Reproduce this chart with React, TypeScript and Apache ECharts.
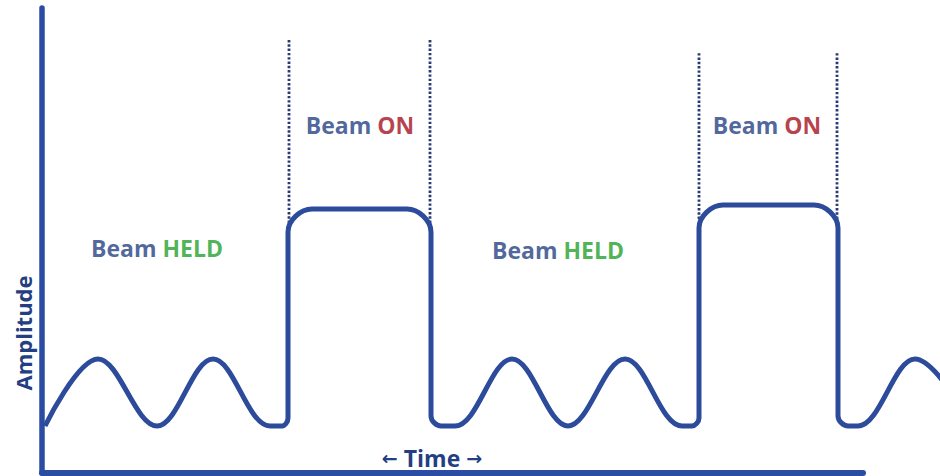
import React, { useEffect, useRef } from "react";
import * as echarts from "echarts";

// Time axis units ~ pixels from the vertical axis; amplitude units ~ pixels above the time axis
const waveTime = [3, 56, 115, 171, 228, 240, 246, 246, 270, 365, 389, 389, 399, 413, 470, 526, 583, 640, 650, 657, 657, 681, 772, 796, 796, 806, 816, 873, 930];
const waveAmp = [47, 114, 47, 114, 47, 47, 55, 241, 264, 264, 241, 57, 47, 47, 114, 47, 114, 47, 47, 55, 245, 268, 268, 245, 57, 47, 47, 114, 47];

const dividerTime = [247, 388, 657, 795];
const dividerTop = [433, 433, 421, 421];
const dividerBottom = [250, 250, 254, 254];

const onLabelTime = [318, 725];
const onLabelAmp = [348, 348];
const heldLabelTime = [115, 516];
const heldLabelAmp = [225, 223];

const timeAxisMax = 821; // drawn time axis length
const timeViewMax = 898; // plotting window up to the right edge (curve runs off it)
const ampMax = 465;

const FONT = "'Open Sans', 'Noto Sans', sans-serif";
const WAVE = "#2c4b9b";
const AXIS = "#2b4ca3";
const TEXT_BLUE = "#233f82";
const GREEN = "#1f9f2b";
const RED = "#a50f1d";
const DOT = "#2a3a74";

export default function App() {
  const ref = useRef<HTMLDivElement>(null);
  useEffect(() => {
    if (!ref.current) return;
    const chart = echarts.init(ref.current, undefined, { renderer: "svg" });
    const wave = waveTime.map((t, i) => [t, waveAmp[i]]);
    const dividers = dividerTime.map((t, i) => ({
      type: "line",
      xAxisIndex: 1,
      yAxisIndex: 1,
      data: [[t, dividerBottom[i]], [t, dividerTop[i]]],
      symbol: "none",
      lineStyle: { color: DOT, width: 2.8, type: [2.4, 1.9] },
      silent: true,
      z: 2,
    }));
    const W = "bold";
    const labelCommon = {
      show: true,
      position: "inside",
      fontFamily: FONT,
      fontWeight: W,
      fontSize: 23,
    };
    const hiddenAxis = {
      axisLine: { show: false },
      axisTick: { show: false },
      axisLabel: { show: false },
      splitLine: { show: false },
    };
    chart.setOption({
      animation: false,
      backgroundColor: "#ffffff",
      grid: [
        { left: 42, right: 940 - 42 - timeAxisMax, top: 8, bottom: 3 },
        { left: 42, right: 940 - 42 - timeViewMax, top: 8, bottom: 3 },
      ],
      xAxis: [
        {
          type: "value",
          gridIndex: 0,
          min: 0,
          max: timeAxisMax,
          axisLine: { show: true, lineStyle: { color: AXIS, width: 6 } },
          axisTick: { show: false },
          axisLabel: { show: false },
          splitLine: { show: false },
        },
        { type: "value", gridIndex: 1, min: 0, max: timeViewMax, ...hiddenAxis },
      ],
      yAxis: [
        {
          type: "value",
          gridIndex: 0,
          min: 0,
          max: ampMax,
          axisLine: { show: true, lineStyle: { color: AXIS, width: 5.5 } },
          axisTick: { show: false },
          axisLabel: { show: false },
          splitLine: { show: false },
        },
        { type: "value", gridIndex: 1, min: 0, max: ampMax, ...hiddenAxis },
      ],
      graphic: [
        {
          type: "text",
          x: 23,
          y: 333,
          rotation: Math.PI / 2,
          style: {
            text: "Amplitude",
            fill: TEXT_BLUE,
            font: `${W} 22px ${FONT}`,
            align: "center",
            verticalAlign: "middle",
          },
        },
        {
          type: "text",
          x: 432,
          y: 458,
          style: {
            text: "{a|←} Time {a|→}",
            fill: TEXT_BLUE,
            font: `${W} 23px ${FONT}`,
            align: "center",
            verticalAlign: "middle",
            rich: {
              a: { fontSize: 19, fontWeight: "bold", fill: TEXT_BLUE, fontFamily: "'DejaVu Sans', sans-serif" },
            },
          },
        },
      ],
      series: [
        {
          type: "line",
          xAxisIndex: 1,
          yAxisIndex: 1,
          data: wave,
          smooth: 0.37,
          symbol: "none",
          lineStyle: { color: WAVE, width: 5 },
          z: 3,
        },
        ...dividers,
        {
          type: "scatter",
          xAxisIndex: 1,
          yAxisIndex: 1,
          data: onLabelTime.map((t, i) => [t, onLabelAmp[i]]),
          symbolSize: 1,
          itemStyle: { color: "rgba(0,0,0,0)" },
          label: {
            ...labelCommon,
            formatter: "{b|Beam} {s|ON}",
            rich: {
              b: { color: TEXT_BLUE, fontFamily: FONT, fontWeight: W, fontSize: 23 },
              s: { color: RED, fontFamily: FONT, fontWeight: W, fontSize: 23 },
            },
          },
          silent: true,
        },
        {
          type: "scatter",
          xAxisIndex: 1,
          yAxisIndex: 1,
          data: heldLabelTime.map((t, i) => [t, heldLabelAmp[i]]),
          symbolSize: 1,
          itemStyle: { color: "rgba(0,0,0,0)" },
          label: {
            ...labelCommon,
            formatter: "{b|Beam} {s|HELD}",
            rich: {
              b: { color: TEXT_BLUE, fontFamily: FONT, fontWeight: W, fontSize: 23 },
              s: { color: GREEN, fontFamily: FONT, fontWeight: W, fontSize: 23 },
            },
          },
          silent: true,
        },
      ],
    });
    return () => chart.dispose();
  }, []);
  return (
    <div
      ref={ref}
      style={{ position: "fixed", left: 0, top: 0, width: 940, height: 476, background: "#fff" }}
    />
  );
}
